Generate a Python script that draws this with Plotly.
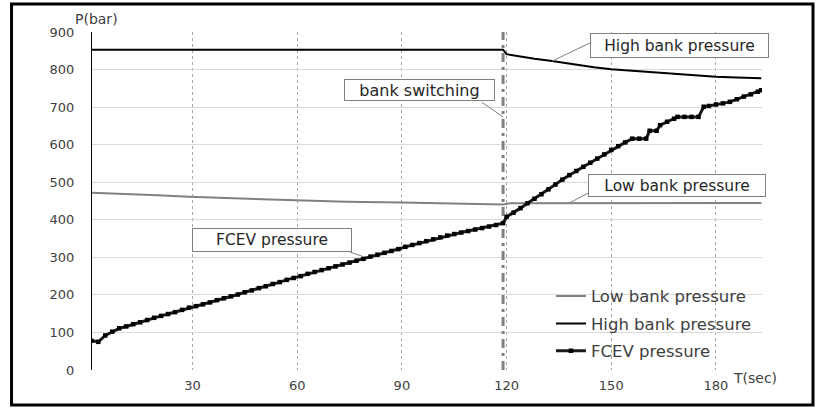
import plotly.graph_objects as go

# FCEV tank pressure (bar) over filling time (s)
FCEV_T = [1, 3, 5, 7, 9, 11, 13, 15, 17, 19, 21, 23, 25, 27, 29, 31, 33, 35, 37, 39,
          41, 43, 45, 47, 49, 51, 53, 55, 57, 59, 61, 63, 65, 67, 69, 71, 73, 75, 77, 79,
          81, 83, 85, 87, 89, 91, 93, 95, 97, 99, 101, 103, 105, 107, 109, 111, 113, 115, 117, 119,
          120, 122, 124, 126, 128, 130, 132, 134, 136, 138, 140, 142, 144, 146, 148, 150, 152, 154, 156, 158,
          160, 161, 163, 164, 166, 168, 169, 171, 173, 175, 176.5, 178, 180, 182, 184, 186, 188, 190, 192, 193]
FCEV_P = [78, 75, 92, 102, 111, 116, 122, 127, 133, 139, 144, 149, 154, 160, 166, 170, 175, 180, 186, 191,
          196, 201, 207, 212, 218, 223, 229, 234, 240, 245, 250, 256, 261, 266, 271, 276, 281, 286, 291, 296,
          302, 307, 312, 317, 322, 328, 333, 338, 343, 348, 353, 358, 362, 366, 370, 374, 378, 382, 386, 391,
          408, 419, 431, 444, 456, 468, 481, 494, 507, 519, 530, 541, 552, 563, 574, 586, 596, 606, 616, 616,
          616, 637, 637, 652, 661, 669, 674, 674, 674, 674, 701, 703, 707, 710, 714, 721, 728, 734, 741, 745]

# High-pressure storage bank
HIGH_T = [1, 119, 120, 124, 128, 133, 140, 145, 150, 160, 165, 170, 180, 186, 193]
HIGH_P = [853, 853, 841, 834, 829, 823, 812, 806, 801, 794, 790, 786, 781, 779, 777]

# Low-pressure storage bank
LOW_T = [1, 8, 20, 29, 45, 60, 74, 90, 105, 117, 119, 121, 140, 160, 165, 170, 175, 180, 185, 193]
LOW_P = [472, 470, 465, 461, 456, 452, 448, 446, 443, 441, 441, 444, 444, 444, 445, 444, 446, 445, 444, 445]

SWITCH_T = 119
X_TICKS = [30, 60, 90, 120, 150, 180]

FONT = "DejaVu Sans"
TXT = "#404040"

fig = go.Figure()

fig.add_trace(go.Scatter(x=LOW_T, y=LOW_P, mode="lines", name="Low bank pressure",
                         line=dict(color="#808080", width=2), legendgroup="a"))
fig.add_trace(go.Scatter(x=HIGH_T, y=HIGH_P, mode="lines", name="High bank pressure",
                         line=dict(color="#000000", width=2), legendgroup="b"))
fig.add_trace(go.Scatter(x=[SWITCH_T, SWITCH_T], y=[0, 900], mode="lines", showlegend=False,
                         line=dict(color="#808080", width=3, dash="9px,5px,3px,5px"), hoverinfo="skip"))
fig.add_trace(go.Scatter(x=FCEV_T, y=FCEV_P, mode="lines+markers", name="FCEV pressure",
                         line=dict(color="#1a1a1a", width=3),
                         marker=dict(symbol="square", size=4.5, color="#000000"), legendgroup="c"))

# text boxes with leader lines: (label, center t, center bar, width px, height px, font, line start, line end)
boxes = [
    ("High bank pressure", 169.7, 864, 177, 23, 15.5, (143.9, 871), (133.0, 822)),
    ("bank switching", 95.0, 745, 149, 20, 16, (112.9, 713), (119.0, 674)),
    ("Low bank pressure", 168.8, 491, 176, 21, 15.5, (143.4, 471), (137.6, 443)),
    ("FCEV pressure", 52.8, 346, 158, 22, 15.5, (75.1, 314), (78.9, 302)),
]
annotations = []
shapes = []
for label, bx, by, bw, bh, fs, p0, p1 in boxes:
    shapes.append(dict(type="line", xref="x", yref="y", x0=p0[0], y0=p0[1], x1=p1[0], y1=p1[1],
                       line=dict(color="#808080", width=1)))
    annotations.append(dict(text=label, x=bx, y=by, xref="x", yref="y", xanchor="center",
                            yanchor="middle", showarrow=False, width=bw, height=bh,
                            bgcolor="white", bordercolor="#808080", borderwidth=1, borderpad=0,
                            font=dict(family=FONT, size=fs, color="#262626")))

annotations.append(dict(text="P(bar)", x=0.006, y=1.0385, xref="paper", yref="paper",
                        xanchor="center", yanchor="middle", showarrow=False,
                        font=dict(family=FONT, size=14, color=TXT)))
annotations.append(dict(text="T(sec)", x=0.9896, y=-0.0237, xref="paper", yref="paper",
                        xanchor="center", yanchor="middle", showarrow=False,
                        font=dict(family=FONT, size=14, color=TXT)))

# outer frame
shapes.append(dict(type="rect", xref="paper", yref="paper", x0=-0.1201, x1=1.0761,
                   y0=-0.1036, y1=1.0828, line=dict(color="black", width=3)))

fig.update_layout(
    width=816, height=408,
    margin=dict(l=92, r=54, t=32, b=38),
    paper_bgcolor="white", plot_bgcolor="white",
    font=dict(family=FONT, color=TXT),
    annotations=annotations, shapes=shapes,
    legend=dict(x=0.685, y=0.27, xanchor="left", yanchor="top", bgcolor="rgba(0,0,0,0)",
                font=dict(family=FONT, size=16.5, color=TXT), traceorder="grouped",
                tracegroupgap=3, itemwidth=30),
    xaxis=dict(range=[1.2, 193.2], tickvals=X_TICKS, showgrid=True, gridcolor="#a6a6a6",
               griddash="dot", gridwidth=1, zeroline=False, showline=False, ticks="",
               tickfont=dict(family=FONT, size=13, color=TXT), ticklabelstandoff=6),
    yaxis=dict(range=[0, 900], dtick=100, showgrid=True, gridcolor="#d9d9d9", gridwidth=1,
               zeroline=False, showline=True, linecolor="black", linewidth=1, ticks="",
               tickfont=dict(family=FONT, size=13, color=TXT), ticklabelstandoff=14),
)

fig.write_html("out.html")
